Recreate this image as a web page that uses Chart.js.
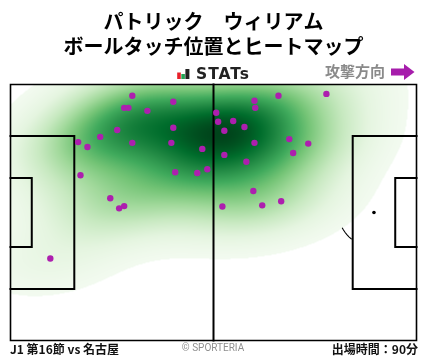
<!DOCTYPE html>
<html lang="ja">
<head>
<meta charset="utf-8">
<title>ヒートマップ</title>
<script src="https://cdn.jsdelivr.net/npm/chart.js@4/dist/chart.umd.min.js"></script>
<style>
  html, body { margin: 0; padding: 0; background: #fff; }
  #wrap { position: relative; width: 428px; height: 359px; overflow: hidden; font-family: "Noto Sans CJK JP", "Noto Sans", sans-serif; }
  #wrap canvas { position: absolute; left: 0; top: 0; }
  .lbl { position: absolute; white-space: nowrap; line-height: 1; }
  #stats { left: 196px; top: 65px; font: bold 15.5px "DejaVu Sans", sans-serif; letter-spacing: 1px; color: #222; }
  #dir { right: 43px; top: 63px; font-size: 15px; font-weight: 700; color: #8a8a8a; }
  #match { left: 10px; top: 343px; font-size: 12px; font-weight: 700; color: #111; }
  #copy { left: 0; width: 426px; text-align: center; top: 343px; font-size: 10px; color: #8f8f8f; font-family: "Roboto", sans-serif; }
  #mins { right: 10px; top: 343px; font-size: 12px; font-weight: 700; color: #111; }
  svg { position: absolute; }
</style>
</head>
<body>
<div id="wrap">
  <canvas id="chart" width="428" height="359"></canvas>
  <svg id="logo" style="left:176px;top:66px" width="16" height="16">
    <rect x="1.2" y="6.5" width="3.6" height="6.5" fill="#e8202a"/>
    <rect x="5.3" y="8" width="3.6" height="5" fill="#23a455"/>
    <rect x="9.4" y="3" width="4" height="10" fill="#222"/>
  </svg>
  <div class="lbl" id="stats">STATs</div>
  <div class="lbl" id="dir">攻撃方向</div>
  <svg id="arrow" style="left:390px;top:63px" width="26" height="18">
    <path d="M1 5.5H14V1L24.5 9 14 17V12.5H1Z" fill="#a61dab"/>
  </svg>
  <div class="lbl" id="match">J1 第16節 vs 名古屋</div>
  <div class="lbl" id="copy">© SPORTERIA</div>
  <div class="lbl" id="mins">出場時間：90分</div>
</div>

<script>
// ball touch positions in metres, x from own goal line, y from top touchline
const touchX = [31.5, 42.1, 29.4, 30.5, 35.4, 27.6, 42.1, 23.2, 17.5, 19.9,
  31.5, 41.6, 49.6, 18.1, 42.6, 48.3, 50.9, 25.8, 28.1, 29.4,
  69.3, 81.7, 63.1, 63.3, 53.2, 53.7, 57.6, 60.5, 55.3, 63.1,
  72.1, 77.0, 73.1, 55.3, 61.0, 62.8, 70.0, 65.1, 54.8, 10.3];
const touchY = [3.0, 4.6, 6.2, 6.2, 7.0, 12.1, 11.5, 13.9, 15.3, 16.6,
  15.5, 15.5, 17.1, 24.1, 23.3, 23.5, 22.5, 30.2, 32.9, 32.3,
  3.0, 2.5, 4.3, 6.2, 7.5, 9.9, 9.7, 11.3, 12.3, 15.5,
  14.5, 15.7, 18.2, 18.7, 20.5, 28.3, 31.0, 32.1, 32.4, 46.2];

const pitchLength = 105;
const pitchWidth = 68;
const titleLines = ['パトリック　ウィリアム', 'ボールタッチ位置とヒートマップ'];

// Greens colormap stops
const greens = [[247,252,245],[229,245,224],[199,233,192],[161,217,155],[116,196,118],[65,171,93],[35,139,69],[0,109,44],[0,68,27]];

function greenAt(t) {
  const p = Math.min(0.9999, Math.max(0, t)) * (greens.length - 1);
  const i = Math.floor(p), f = p - i;
  return greens[i].map((c, k) => c + (greens[i + 1][k] - c) * f);
}

// gaussian kde over the touches, scott bandwidth widened to match the spread
function makeKde(xs, ys, widen) {
  const n = xs.length;
  const mx = xs.reduce((a, b) => a + b) / n;
  const my = ys.reduce((a, b) => a + b) / n;
  let sxx = 0, syy = 0, sxy = 0;
  xs.forEach((x, i) => {
    sxx += (x - mx) * (x - mx);
    syy += (ys[i] - my) * (ys[i] - my);
    sxy += (x - mx) * (ys[i] - my);
  });
  const h2 = widen * widen * Math.pow(n, -1 / 3) / (n - 1);
  const a = sxx * h2, b = sxy * h2, d = syy * h2;
  const det = a * d - b * b;
  return (x, y) => {
    let sum = 0;
    for (let i = 0; i < n; i++) {
      const dx = x - xs[i], dy = y - ys[i];
      sum += Math.exp(-0.5 * (d * dx * dx - 2 * b * dx * dy + a * dy * dy) / det);
    }
    return sum;
  };
}

const heatmapPlugin = {
  id: 'heatmap',
  beforeDatasetsDraw(chart) {
    const { ctx, chartArea: area, scales } = chart;
    const w = Math.round(area.right - area.left), h = Math.round(area.bottom - area.top);
    const kde = makeKde(touchX, touchY, 1.25);
    const vals = new Float64Array(w * h);
    let top = 0;
    for (let j = 0; j < h; j++) {
      for (let i = 0; i < w; i++) {
        const v = kde(scales.x.getValueForPixel(area.left + i + 0.5), scales.y.getValueForPixel(area.top + j + 0.5));
        vals[j * w + i] = v;
        if (v > top) top = v;
      }
    }
    const off = document.createElement('canvas');
    off.width = w; off.height = h;
    const octx = off.getContext('2d');
    const img = octx.createImageData(w, h);
    for (let k = 0; k < vals.length; k++) {
      const t = vals[k] / top;
      if (t < 0.03) continue;
      const c = greenAt(t);
      img.data[k * 4] = c[0]; img.data[k * 4 + 1] = c[1]; img.data[k * 4 + 2] = c[2]; img.data[k * 4 + 3] = 255;
    }
    octx.putImageData(img, 0, 0);
    ctx.drawImage(off, area.left, area.top);
  }
};

function lineSet(points, width) {
  return { type: 'line', data: points, borderColor: '#000', borderWidth: width, pointRadius: 0,
    fill: false, tension: 0, order: 2, clip: false, borderCapStyle: 'square', borderJoinStyle: 'miter' };
}

const midY = pitchWidth / 2;
const boxHalf = 20.3, sixHalf = 9.16, boxDepth = 16.5, sixDepth = 5.5, spotDist = 11, arcR = 9.15;

// only the lower right part of the penalty arc shows past the heat layer
const arcAngles = [130, 135, 140, 145, 150, 153];
const arcLine = arcAngles.map(a => ({
  x: pitchLength - spotDist + arcR * Math.cos(a * Math.PI / 180),
  y: midY + arcR * Math.sin(a * Math.PI / 180)
}));

new Chart(document.getElementById('chart'), {
  data: {
    datasets: [
      { type: 'scatter', data: touchX.map((x, i) => ({x, y: touchY[i]})), backgroundColor: '#ad1fae', borderWidth: 0, pointRadius: 3.2, order: 0 },
      { type: 'scatter', data: [{x: pitchLength - spotDist, y: midY}], backgroundColor: '#000', borderWidth: 0, pointRadius: 1.8, order: 1 },
      lineSet([{x: 0, y: 0}, {x: pitchLength, y: 0}, {x: pitchLength, y: pitchWidth}, {x: 0, y: pitchWidth}, {x: 0, y: 0}], 1.6),
      lineSet([{x: pitchLength / 2, y: 0}, {x: pitchLength / 2, y: pitchWidth}], 2),
      lineSet([{x: 0, y: midY - boxHalf}, {x: boxDepth, y: midY - boxHalf}, {x: boxDepth, y: midY + boxHalf}, {x: 0, y: midY + boxHalf}], 2),
      lineSet([{x: 0, y: midY - sixHalf}, {x: sixDepth, y: midY - sixHalf}, {x: sixDepth, y: midY + sixHalf}, {x: 0, y: midY + sixHalf}], 2),
      lineSet([{x: pitchLength, y: midY - boxHalf}, {x: pitchLength - boxDepth, y: midY - boxHalf}, {x: pitchLength - boxDepth, y: midY + boxHalf}, {x: pitchLength, y: midY + boxHalf}], 2),
      lineSet([{x: pitchLength, y: midY - sixHalf}, {x: pitchLength - sixDepth, y: midY - sixHalf}, {x: pitchLength - sixDepth, y: midY + sixHalf}, {x: pitchLength, y: midY + sixHalf}], 2),
      lineSet(arcLine, 1.1)
    ]
  },
  options: {
    responsive: false,
    animation: false,
    layout: { padding: { left: 10.5, right: 11.5, top: 8.5, bottom: 18.5 } },
    scales: {
      x: { type: 'linear', display: false, min: 0, max: pitchLength },
      y: { type: 'linear', display: false, min: 0, max: pitchWidth, reverse: true }
    },
    plugins: {
      legend: { display: false },
      tooltip: { enabled: false },
      title: {
        display: true,
        text: titleLines,
        color: '#000',
        font: { family: '"Noto Sans CJK JP"', size: 20, weight: 'bold', lineHeight: 1.25 },
        padding: { top: 0, bottom: 26 }
      }
    }
  },
  plugins: [heatmapPlugin]
});
</script>
</body>
</html>
